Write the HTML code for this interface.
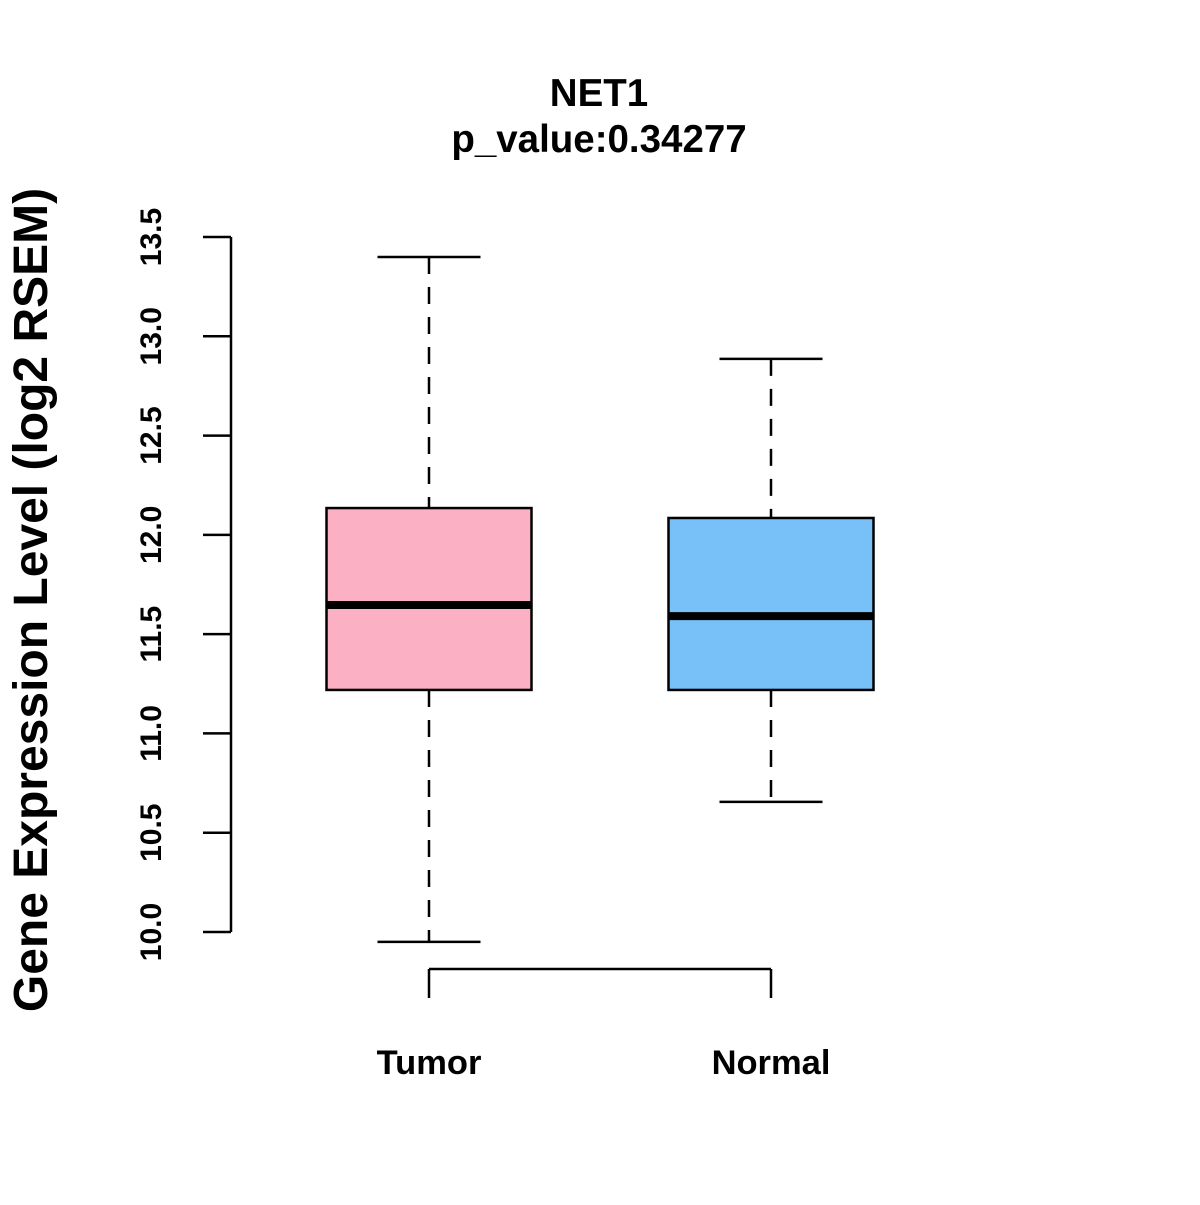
<!DOCTYPE html>
<html><head><meta charset="utf-8"><style>
html,body{margin:0;padding:0;background:#fff;}
svg text{font-family:"Liberation Sans",Arial,sans-serif;font-weight:bold;fill:#000;}
</style></head><body>
<svg id="chart" width="1200" height="1200" xmlns="http://www.w3.org/2000/svg">
<rect width="1200" height="1200" fill="#fff"/>
<text x="599" y="106" font-size="38.5" text-anchor="middle">NET1</text>
<text x="599" y="152" font-size="38.5" text-anchor="middle">p_value:0.34277</text>
<text transform="translate(47,600) rotate(-90)" font-size="48" text-anchor="middle">Gene Expression Level (log2 RSEM)</text>
<g id="plot"></g>
</svg>
<script>
const categories = ["Tumor","Normal"];
const whiskerLow = [9.95, 10.655];
const q1 = [11.219, 11.219];
const medians = [11.647, 11.591];
const q3 = [12.135, 12.085];
const whiskerHigh = [13.399, 12.886];
const fills = ["#FBB1C3","#77C1F8"];
const yTicks = [10.0,10.5,11.0,11.5,12.0,12.5,13.0,13.5];
const yTickLabels = ["10.0","10.5","11.0","11.5","12.0","12.5","13.0","13.5"];

const NS="http://www.w3.org/2000/svg";
const g=document.getElementById('plot');
function y(v){return 932-(v-10)*(695/3.5);}
function x(i){return 429+i*342;}
function el(tag,attrs,parent){const e=document.createElementNS(NS,tag);for(const k in attrs)e.setAttribute(k,attrs[k]);(parent||g).appendChild(e);return e;}

let ax=el('line',{x1:231,x2:231,y1:y(yTicks[0]),y2:y(yTicks[yTicks.length-1]),stroke:'#000','stroke-width':2.5});


yTicks.forEach((t,i)=>{
  const tk=el('line',{x1:203,x2:231,y1:y(t),y2:y(t),stroke:'#000','stroke-width':2.5});
  
  
  const tx=el('text',{transform:`translate(161,${y(t)}) rotate(-90)`,'font-size':30,'text-anchor':'middle'});
  tx.textContent=yTickLabels[i];
  
  
});
let xa=el('line',{x1:x(0),x2:x(categories.length-1),y1:969,y2:969,stroke:'#000','stroke-width':2.5});


categories.forEach((c,i)=>{
  const cx=x(i);
  const tk=el('line',{x1:cx,x2:cx,y1:969,y2:998,stroke:'#000','stroke-width':2.5});
  
  
  const tx=el('text',{x:cx,y:1074,'font-size':34.5,'text-anchor':'middle'});
  tx.textContent=c;
  
  
  const bw=205, cw=103;
  const w1=el('line',{x1:cx,x2:cx,y1:y(whiskerHigh[i]),y2:y(q3[i]),stroke:'#000','stroke-width':2.5,'stroke-dasharray':'17,13'});
  
  
  const w2=el('line',{x1:cx,x2:cx,y1:y(q1[i]),y2:y(whiskerLow[i]),stroke:'#000','stroke-width':2.5,'stroke-dasharray':'17,13'});
  
  
  const c1=el('line',{x1:cx-cw/2,x2:cx+cw/2,y1:y(whiskerHigh[i]),y2:y(whiskerHigh[i]),stroke:'#000','stroke-width':2.5});
  
  
  const c2=el('line',{x1:cx-cw/2,x2:cx+cw/2,y1:y(whiskerLow[i]),y2:y(whiskerLow[i]),stroke:'#000','stroke-width':2.5});
  
  
  const b=el('rect',{x:cx-bw/2,y:y(q3[i]),width:bw,height:y(q1[i])-y(q3[i]),fill:fills[i],stroke:'#000','stroke-width':2.5});
  
  
  const m=el('line',{x1:cx-bw/2,x2:cx+bw/2,y1:y(medians[i]),y2:y(medians[i]),stroke:'#000','stroke-width':8});
  
  
});
</script>
</body></html>
